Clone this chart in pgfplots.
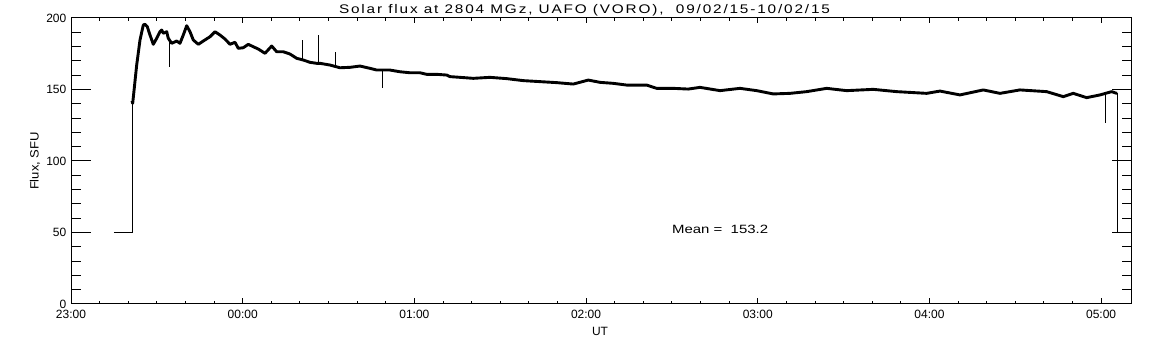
\documentclass[border=0pt]{standalone}
\usepackage{pgfplots}
\pgfplotsset{compat=1.18}
\usepackage{fontspec}
\setmainfont{Liberation Sans}
\usepackage{graphicx}

\begin{document}
\begin{tikzpicture}
\useasboundingbox (0pt,0pt) rectangle (1152pt,345pt);
% axis 1: data and y ticks
\begin{axis}[at={(71pt,41pt)}, anchor=south west, scale only axis,
  width=1060.7pt, height=286pt,
  xmin=0, xmax=6.178, ymin=0, ymax=200,
  axis line style={line width=1pt},
  tick style={line width=1pt, black},
  tick align=inside,
  xtick=\empty,
  ytick={0,50,100,150,200},
  yticklabels={0,50,100,150,200},
  minor y tick num=4,
  major tick length=20pt, minor tick length=10pt,
  yticklabel style={anchor=east, inner sep=0pt, xshift=-4.5pt, font=\fontsize{12}{14}\selectfont},
  clip=false]
\addplot[black, line width=1pt] coordinates {(0.2504,50) (0.3553,50) (0.3553,142)};
\addplot[black, line width=2.9pt, line join=round] coordinates {
(0.3553,142) (0.3593,140.3) (0.3826,167.1) (0.4019,184.6) (0.4211,195.1) (0.431,195.6) (0.4444,193.9) (0.4601,188.1) (0.4793,181.6) (0.4991,185.8) (0.5183,190.4) (0.5282,191.6) (0.5376,189.3) (0.5574,190.4) (0.5667,185.8) (0.5865,182.3) (0.6156,183.9) (0.6348,182.3) (0.654,188.1) (0.6739,194.6) (0.6931,190.4) (0.7123,184.6) (0.7414,181.6) (0.7705,183.9) (0.8095,186.9) (0.8387,190.4) (0.8678,188.1) (0.8969,185.3) (0.926,181.6) (0.9552,183.0) (0.9744,178.8) (1.0035,179.2) (1.0326,181.6) (1.0617,179.9) (1.0909,178.3) (1.1299,175.3) (1.1689,180.4) (1.198,176.4) (1.2365,176.4) (1.2755,174.8) (1.3145,171.8) (1.353,170.6) (1.392,169.0) (1.431,168.3) (1.4502,168.3) (1.5084,167.1) (1.5667,165.2) (1.6249,165.5) (1.6832,166.4) (1.7414,164.8) (1.7804,163.6) (1.8579,163.6) (1.9161,162.4) (1.9744,161.7) (2.0326,161.7) (2.0716,160.6) (2.1299,160.6) (2.1881,160.1) (2.2073,159.0) (2.2656,158.5) (2.343,157.8) (2.4403,158.5) (2.5376,157.6) (2.6343,156.2) (2.7315,155.5) (2.8288,154.8) (2.9255,153.8) (3.0128,156.6) (3.081,155.0) (3.1584,154.3) (3.2365,153.1) (3.3529,153.1) (3.4112,150.8) (3.5079,150.8) (3.5952,150.3) (3.6634,151.5) (3.7799,149.2) (3.8963,150.8) (3.9936,149.2) (4.0903,146.9) (4.1875,147.3) (4.2848,148.5) (4.4013,150.8) (4.5178,149.2) (4.6727,150.1) (4.809,148.5) (4.9837,147.3) (5.0612,148.9) (5.1776,146.2) (5.3133,149.7) (5.4106,147.3) (5.5271,149.7) (5.6826,148.5) (5.7793,145.0) (5.8375,147.3) (5.9156,144.3) (5.993,146.2) (6.0612,148.5) (6.0903,147.3) (6.095,147.5)};
\addplot[black, line width=1pt] coordinates {(6.095,147.5) (6.095,50)};
% spikes
\addplot[black, line width=1pt] coordinates {(0.5725,185) (0.5725,165.9)};
\addplot[black, line width=1pt] coordinates {(1.3471,171) (1.3471,184.6)};
\addplot[black, line width=1pt] coordinates {(1.4403,168.3) (1.4403,188.1)};
\addplot[black, line width=1pt] coordinates {(1.5416,166) (1.5416,176.4)};
\addplot[black, line width=1pt] coordinates {(1.8154,163.6) (1.8154,150.8)};
\addplot[black, line width=1pt] coordinates {(6.028,146) (6.028,126.4)};
\node[anchor=west, inner sep=0pt] at (axis cs:3.5,52.4) {\resizebox{96pt}{\height}{\fontsize{12}{14}\selectfont Mean =\ \ 153.2}};
\end{axis}
% axis 2: x ticks
\begin{axis}[at={(71pt,41pt)}, anchor=south west, scale only axis,
  width=1060.7pt, height=286pt,
  xmin=0, xmax=6.178, ymin=0, ymax=200,
  axis line style={line width=1pt},
  tick style={line width=1pt, black},
  tick align=inside,
  ytick=\empty,
  xtick={0,1,2,3,4,5,6},
  xticklabels={23:00,00:00,01:00,02:00,03:00,04:00,05:00},
  minor x tick num=5,
  major tick length=5.5pt, minor tick length=2.7pt,
  xticklabel style={anchor=north, inner sep=0pt, yshift=-5.5pt, font=\fontsize{12}{14}\selectfont}]
\end{axis}
\node[inner sep=0pt] at (584.5pt,335pt) {\resizebox{491pt}{\height}{\fontsize{12.5}{15}\selectfont\addfontfeatures{LetterSpace=12}Solar flux at 2804 MGz, UAFO (VORO),\ \ 09/02/15-10/02/15}};
\node[inner sep=0pt, rotate=90] at (35pt,184pt) {\resizebox{58pt}{\height}{\fontsize{12}{14}\selectfont Flux, SFU}};
\node[inner sep=0pt] at (600pt,14pt) {\fontsize{12}{14}\selectfont UT};
\end{tikzpicture}
\end{document}
